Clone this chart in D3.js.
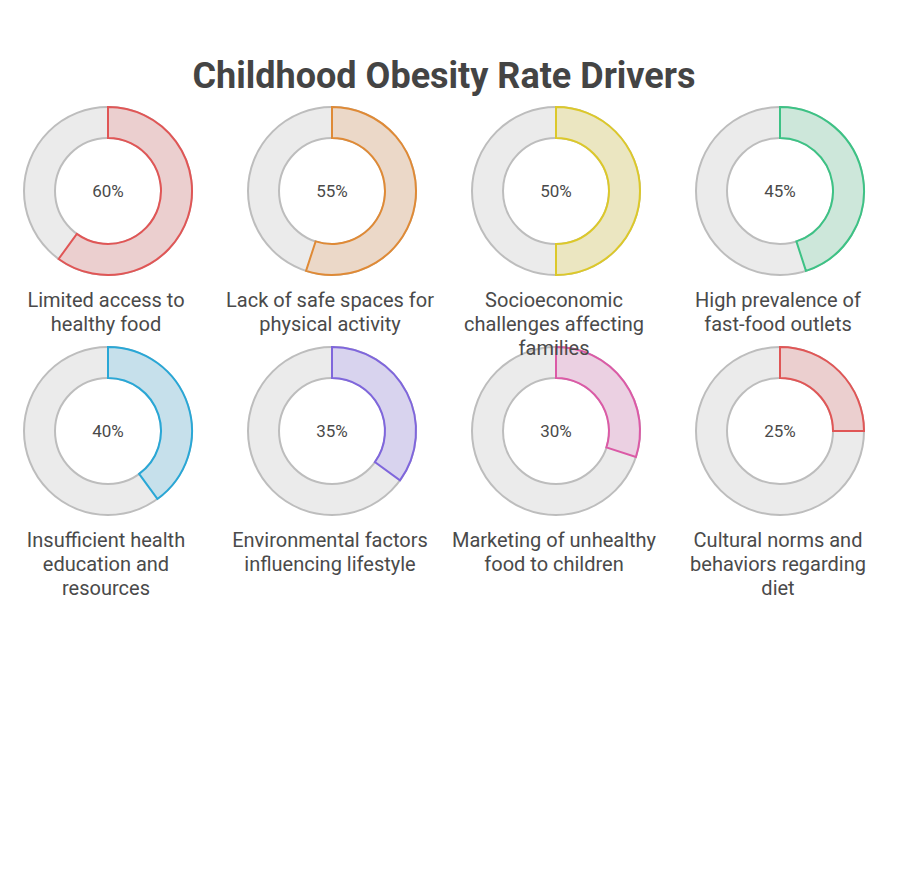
<!DOCTYPE html>
<html>
<head>
<meta charset="utf-8">
<script src="https://cdn.jsdelivr.net/npm/d3@7"></script>
<style>
  body { margin: 0; background: #fff; }
  svg { display: block; font-family: Roboto, "Noto Sans", sans-serif; }
</style>
</head>
<body>
<svg id="chart" width="897" height="876"></svg>
<script>
// data
const labels = [
  ["Limited access to", "healthy food"],
  ["Lack of safe spaces for", "physical activity"],
  ["Socioeconomic", "challenges affecting", "families"],
  ["High prevalence of", "fast-food outlets"],
  ["Insufficient health", "education and", "resources"],
  ["Environmental factors", "influencing lifestyle"],
  ["Marketing of unhealthy", "food to children"],
  ["Cultural norms and", "behaviors regarding", "diet"]
];
const values = [60, 55, 50, 45, 40, 35, 30, 25];
const strokeColors = ["#e05656", "#df8a36", "#dcc82a", "#3dc285", "#29a7d6", "#7f66dc", "#db5aa6", "#e05656"];
const fillColors = ["#ebcfcf", "#ebd8c8", "#ebe6c1", "#cde7da", "#c6e0eb", "#d8d3ee", "#ebd0e2", "#ebcfcf"];

const svg = d3.select("#chart");
const cols = 4;
const outerR = 84, innerR = 53;

// layout scales
const x = d3.scalePoint().domain(d3.range(cols)).range([108, 780]);
const y = d3.scalePoint().domain([0, 1]).range([191, 431]);
const angle = d3.scaleLinear().domain([0, 100]).range([0, 2 * Math.PI]);

svg.append("text")
  .attr("x", 444).attr("y", 88)
  .attr("text-anchor", "middle")
  .attr("font-size", 36).attr("font-weight", 700)
  .attr("fill", "#444")
  .text("Childhood Obesity Rate Drivers");

const arc = d3.arc().innerRadius(innerR).outerRadius(outerR);
const donutLayer = svg.append("g");
const labelLayer = svg.append("g"); // labels on top so "families" overlaps the ring below

values.forEach(function(v, i) {
  let cx = x(i % cols), cy = y(Math.floor(i / cols));
  let g = donutLayer.append("g").attr("transform", "translate(" + cx + "," + cy + ")");

  // background ring
  g.append("path")
    .attr("d", arc({startAngle: 0, endAngle: 2 * Math.PI}))
    .attr("fill", "#ebebeb")
    .attr("stroke", "#bdbdbd")
    .attr("stroke-width", 2);

  // value segment
  g.append("path")
    .attr("d", arc({startAngle: 0, endAngle: angle(v)}))
    .attr("fill", fillColors[i])
    .attr("stroke", strokeColors[i])
    .attr("stroke-width", 2)
    .attr("stroke-linejoin", "miter");

  g.append("text")
    .attr("y", 6)
    .attr("text-anchor", "middle")
    .attr("font-size", 17)
    .attr("fill", "#4a4a4a")
    .text(v + "%");

  // label below
  let t = labelLayer.append("text")
    .attr("transform", "translate(" + cx + "," + cy + ")")
    .attr("text-anchor", "middle")
    .attr("font-size", 20)
    .attr("fill", "#4a4a4a");
  labels[i].forEach(function(line, k) {
    t.append("tspan").attr("x", -2).attr("y", 116 + k * 24).text(line);
  });
});
</script>
</body>
</html>
